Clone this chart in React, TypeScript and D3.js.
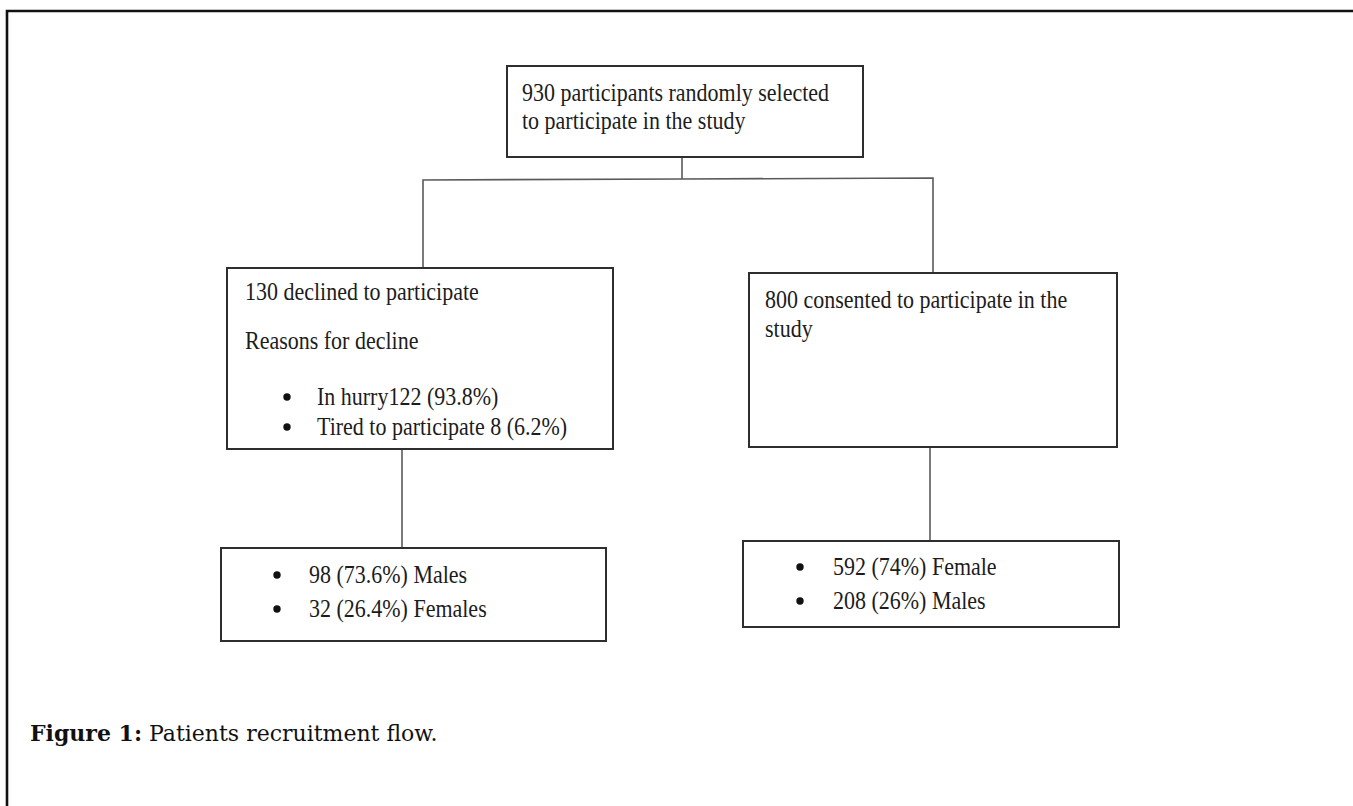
import React, { useEffect, useRef } from "react";
import * as d3 from "d3";

// ---- content ----
const topLines = ["930 participants randomly selected", "to participate in the study"];
const declinedLines = ["130 declined to participate", "Reasons for decline"];
const declinedBullets = ["In hurry122 (93.8%)", "Tired to participate 8 (6.2%)"];
const consentedLines = ["800 consented to participate in the", "study"];
const declinedSex = ["98 (73.6%) Males", "32 (26.4%) Females"];
const consentedSex = ["592 (74%) Female", "208 (26%) Males"];
const captionBold = "Figure 1:";
const captionText = " Patients recruitment flow.";

type Box = { x: number; y: number; w: number; h: number };

export default function App() {
  const ref = useRef<SVGSVGElement | null>(null);

  useEffect(() => {
    const svg = d3.select(ref.current);
    svg.selectAll("*").remove();
    const W = 1353, H = 806;
    svg.append("rect").attr("width", W).attr("height", H).attr("fill", "#fff");

    const font = "'Liberation Serif', 'Times New Roman', serif";
    const line = d3.line<[number, number]>();

    // frame
    svg.append("path")
      .attr("d", line([[7, H + 5], [7, 11], [W + 5, 11]]))
      .attr("fill", "none").attr("stroke", "#111").attr("stroke-width", 2.6);

    const drawBox = (b: Box) =>
      svg.append("rect").attr("x", b.x).attr("y", b.y).attr("width", b.w).attr("height", b.h)
        .attr("fill", "none").attr("stroke", "#2e2e2e").attr("stroke-width", 2);

    const conn = (pts: [number, number][]) =>
      svg.append("path").attr("d", line(pts)).attr("fill", "none")
        .attr("stroke", "#5a5a5a").attr("stroke-width", 1.6);

    const text = (s: string, x: number, y: number) =>
      svg.append("text").attr("transform", `translate(${x},${y}) scale(1,1.18)`)
        .attr("font-family", font)
        .attr("font-size", 22).attr("fill", "#1c1c1c").text(s);

    const bullets = (items: string[], bx: number, tx: number, y0: number, dy: number) => {
      items.forEach((s, i) => {
        const y = y0 + i * dy;
        svg.append("circle").attr("cx", bx).attr("cy", y - 8).attr("r", 3.7).attr("fill", "#111");
        text(s, tx, y);
      });
    };

    const topBox: Box = { x: 507, y: 66, w: 356, h: 91 };
    const leftMid: Box = { x: 227, y: 268, w: 386, h: 181 };
    const rightMid: Box = { x: 749, y: 273, w: 368, h: 174 };
    const leftBot: Box = { x: 221, y: 548, w: 385, h: 93 };
    const rightBot: Box = { x: 743, y: 541, w: 376, h: 86 };

    // connectors
    conn([[682, topBox.y + topBox.h], [682, 179]]);
    conn([[423, 268], [423, 180], [682, 179], [933, 178], [933, 273]]);
    conn([[402, leftMid.y + leftMid.h], [402, leftBot.y]]);
    conn([[930, rightMid.y + rightMid.h], [930, rightBot.y]]);

    [topBox, leftMid, rightMid, leftBot, rightBot].forEach(drawBox);

    topLines.forEach((s, i) => text(s, 522, 101 + i * 28));
    text(declinedLines[0], 245, 300);
    text(declinedLines[1], 245, 349);
    bullets(declinedBullets, 287, 317, 405, 30);
    consentedLines.forEach((s, i) => text(s, 765, 308 + i * 29));
    bullets(declinedSex, 277, 309, 583, 34);
    bullets(consentedSex, 800, 833, 575, 34);

    // caption
    const cap = svg.append("text").attr("x", 30).attr("y", 741)
      .attr("font-family", "'DejaVu Serif', Georgia, serif").attr("font-size", 22).attr("fill", "#111");
    cap.append("tspan").attr("font-weight", "bold").text(captionBold);
    cap.append("tspan").text(captionText);
  }, []);

  return (
    <svg ref={ref} width={1353} height={806}
      style={{ position: "absolute", left: 0, top: 0, display: "block" }} />
  );
}
